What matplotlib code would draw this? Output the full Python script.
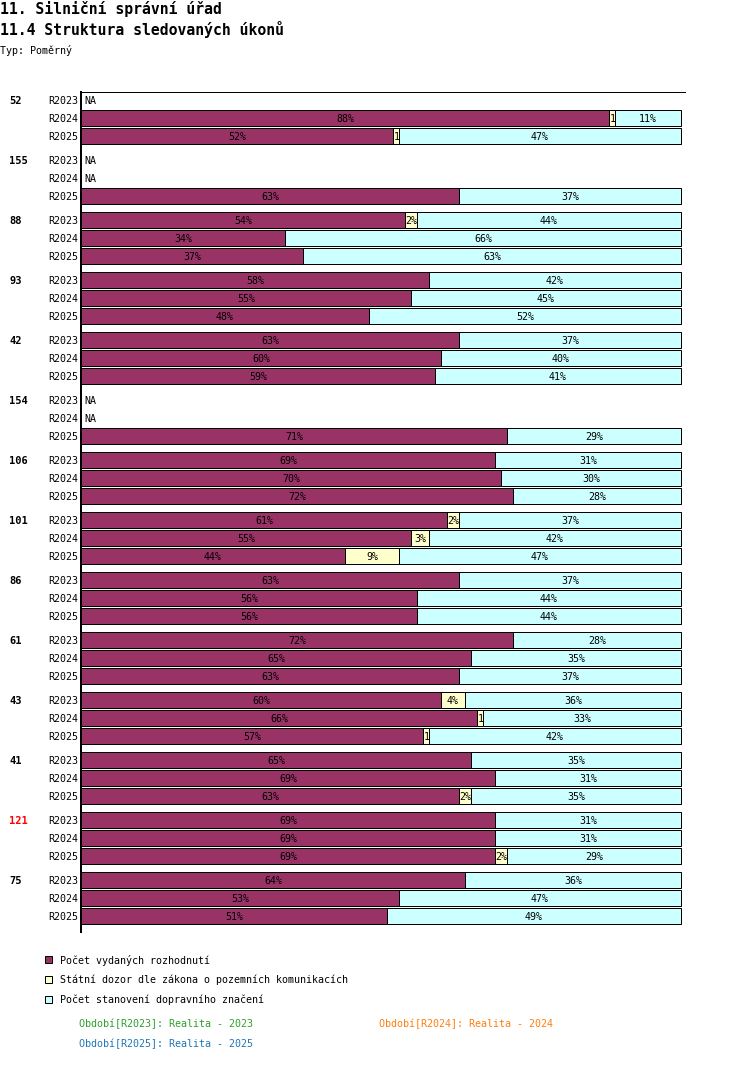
import matplotlib
matplotlib.use("Agg")
import matplotlib.pyplot as plt
from matplotlib.patches import Rectangle
from matplotlib.transforms import Bbox, TransformedBbox

# ---------------- data ----------------
groups = ["52", "155", "88", "93", "42", "154", "106", "101", "86", "61", "43", "41", "121", "75"]
periods = ["R2023", "R2024", "R2025"]
# per group, per period: (rozhodnuti, dozor, stanoveni) in %, None = NA
rozhodnuti = [
    [None, 88, 52], [None, None, 63], [54, 34, 37], [58, 55, 48], [63, 60, 59],
    [None, None, 71], [69, 70, 72], [61, 55, 44], [63, 56, 56], [72, 65, 63],
    [60, 66, 57], [65, 69, 63], [69, 69, 69], [64, 53, 51],
]
dozor = [
    [None, 1, 1], [None, None, 0], [2, 0, 0], [0, 0, 0], [0, 0, 0],
    [None, None, 0], [0, 0, 0], [2, 3, 9], [0, 0, 0], [0, 0, 0],
    [4, 1, 1], [0, 0, 2], [0, 0, 2], [0, 0, 0],
]
stanoveni = [
    [None, 11, 47], [None, None, 37], [44, 66, 63], [42, 45, 52], [37, 40, 41],
    [None, None, 29], [31, 30, 28], [37, 42, 47], [37, 44, 44], [28, 35, 37],
    [36, 33, 42], [35, 31, 35], [31, 31, 29], [36, 47, 49],
]
highlight = ["121"]
series_names = ["Počet vydaných rozhodnutí",
                "Státní dozor dle zákona o pozemních komunikacích",
                "Počet stanovení dopravního značení"]
period_legend = ["Období[R2023]: Realita - 2023",
                 "Období[R2024]: Realita - 2024",
                 "Období[R2025]: Realita - 2025"]

# ---------------- style ----------------
colors = ["#993366", "#FFFFCC", "#CCFFFF"]
period_colors = ["#2ca02c", "#ff7f0e", "#1f77b4"]
MONO = ["DejaVu Sans Mono"]
FS = 7.2

W, H = 750, 1082
fig = plt.figure(figsize=(W / 100, H / 100), dpi=100)

def fx(px):
    return px / W

def fy(py):
    return 1 - py / H

# titles
fig.text(fx(0), fy(14), "11. Silniční správní úřad", family=MONO, fontsize=10.6,
         fontweight="bold", va="baseline", ha="left")
fig.text(fx(0), fy(35.5), "11.4 Struktura sledovaných úkonů", family=MONO, fontsize=10.6,
         fontweight="bold", va="baseline", ha="left")
fig.text(fx(0), fy(54), "Typ: Poměrný", family=MONO, fontsize=FS, va="baseline", ha="left")

# main axes: x in percent (1% = 6 px), y in row units (px)
ax_left, ax_right, ax_top, ax_bot = 81, 685, 92, 932
ax = fig.add_axes([fx(ax_left), fy(ax_bot), (ax_right - ax_left) / W, (ax_bot - ax_top) / H])
ax.set_xlim(0, (ax_right - ax_left) / 6.0)
ax.set_ylim(ax_bot, ax_top)
ax.set_xticks([])
ax.set_yticks([])
for s in ["right", "bottom"]:
    ax.spines[s].set_visible(False)
ax.spines["top"].set_linewidth(0.72)
ax.spines["left"].set_linewidth(1.44)
ax.patch.set_visible(False)

bar_h = 16
for g, name in enumerate(groups):
    for r, per in enumerate(periods):
        y = 100 + 60 * g + 18 * r
        ax.text(-0.5, y, per, family=MONO, fontsize=FS, ha="right", va="center_baseline",
                clip_on=False)
        if r == 0:
            ax.text(-12, y, name, family=MONO, fontsize=FS + 0.3, fontweight="bold",
                    ha="left", va="center_baseline", clip_on=False,
                    color="red" if name in highlight else "black")
        vals = [rozhodnuti[g][r], dozor[g][r], stanoveni[g][r]]
        if vals[0] is None:
            ax.text(0.5, y, "NA", family=MONO, fontsize=FS, ha="left", va="center_baseline")
            continue
        left = 0
        for k, v in enumerate(vals):
            if v == 0:
                continue
            ax.barh(y, v, left=left, height=bar_h, color=colors[k],
                    edgecolor="black", linewidth=0.72)
            if v <= 1:
                t = ax.text(left + 0.1, y, f"{v}%", family=MONO, fontsize=FS,
                            ha="left", va="center_baseline", color="black")
            else:
                t = ax.text(left + v / 2, y, f"{v}%", family=MONO, fontsize=FS,
                            ha="center", va="center_baseline", color="black")
            t.set_clip_on(True)
            t.set_clip_box(TransformedBbox(
                Bbox.from_extents(left, y - bar_h / 2, left + v, y + bar_h / 2), ax.transData))
            left += v

# legend of series
for k, nm in enumerate(series_names):
    cy = 959 + 20 * k
    fig.patches.append(Rectangle((fx(45), fy(cy + 3.5)), 7 / W, 7 / H, transform=fig.transFigure,
                                 facecolor=colors[k], edgecolor="black", linewidth=0.72))
    fig.text(fx(60), fy(cy), nm, family=MONO, fontsize=FS, ha="left", va="center_baseline")

# legend of periods
pos = [(79, 1023), (379, 1023), (79, 1043)]
for k, txt in enumerate(period_legend):
    fig.text(fx(pos[k][0]), fy(pos[k][1]), txt, family=MONO, fontsize=FS, ha="left",
             va="center_baseline", color=period_colors[k])

fig.savefig("out.png", dpi=100)
